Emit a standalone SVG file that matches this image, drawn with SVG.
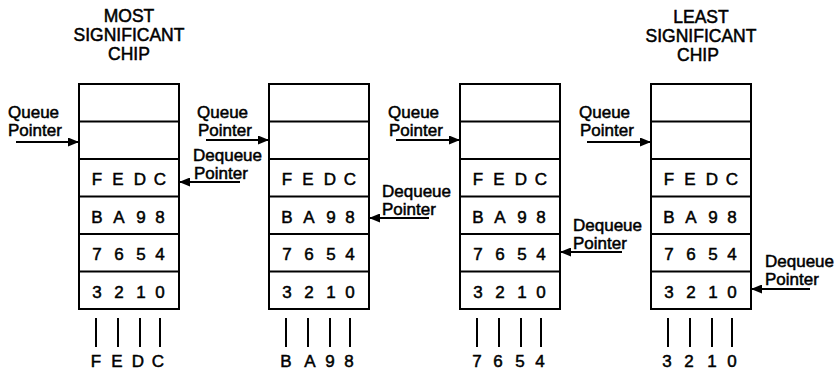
<svg xmlns="http://www.w3.org/2000/svg" width="838" height="374" viewBox="0 0 838 374">
<defs>
<style>
text{font-family:"Liberation Sans",Arial,sans-serif;fill:#000;stroke:#000;stroke-width:0.5}
.t{font-size:17.5px;text-anchor:middle}
.lb{font-size:17px}
.c{font-size:17px;text-anchor:middle}
.box{fill:#fff;stroke:#000;stroke-width:2}
.div{stroke:#000;stroke-width:2}
.pin{stroke:#000;stroke-width:2}
.arr{stroke:#000;stroke-width:2;fill:none;marker-end:url(#ah)}
</style>
<marker id="ah" markerUnits="userSpaceOnUse" markerWidth="11" markerHeight="9" refX="11" refY="4.5" orient="auto">
<path d="M0,0 L11,4.5 L0,9 z" fill="#000"/>
</marker>
<g id="chipbody">
<rect class="box" x="0" y="84" width="100" height="225"/>
<line class="div" x1="0" y1="121.5" x2="100" y2="121.5"/>
<line class="div" x1="0" y1="159" x2="100" y2="159"/>
<line class="div" x1="0" y1="196.5" x2="100" y2="196.5"/>
<line class="div" x1="0" y1="234" x2="100" y2="234"/>
<line class="div" x1="0" y1="271.5" x2="100" y2="271.5"/>
<text class="c" x="18" y="185">F</text><text class="c" x="39" y="185">E</text><text class="c" x="61" y="185">D</text><text class="c" x="81" y="185">C</text>
<text class="c" x="18" y="222.5">B</text><text class="c" x="40" y="222.5">A</text><text class="c" x="62" y="222.5">9</text><text class="c" x="81" y="222.5">8</text>
<text class="c" x="18" y="260">7</text><text class="c" x="40" y="260">6</text><text class="c" x="62" y="260">5</text><text class="c" x="81" y="260">4</text>
<text class="c" x="18" y="297.5">3</text><text class="c" x="40" y="297.5">2</text><text class="c" x="62" y="297.5">1</text><text class="c" x="81" y="297.5">0</text>
<line class="pin" x1="17" y1="318" x2="17" y2="347"/>
<line class="pin" x1="39" y1="318" x2="39" y2="347"/>
<line class="pin" x1="61" y1="318" x2="61" y2="347"/>
<line class="pin" x1="81" y1="318" x2="81" y2="347"/>
</g>
</defs>

<g id="chip1">
<text class="t" x="129" y="22">MOST</text>
<text class="t" x="129" y="41">SIGNIFICANT</text>
<text class="t" x="129" y="60">CHIP</text>
<use href="#chipbody" x="79"/>
<text class="c" x="96" y="367">F</text><text class="c" x="117" y="367">E</text><text class="c" x="138" y="367">D</text><text class="c" x="158" y="367">C</text>
</g>

<g id="chip2">
<use href="#chipbody" x="269"/>
<text class="c" x="286" y="367">B</text><text class="c" x="310" y="367">A</text><text class="c" x="330" y="367">9</text><text class="c" x="349" y="367">8</text>
</g>

<g id="chip3">
<use href="#chipbody" x="460"/>
<text class="c" x="477" y="367">7</text><text class="c" x="498" y="367">6</text><text class="c" x="520" y="367">5</text><text class="c" x="540" y="367">4</text>
</g>

<g id="chip4">
<text class="t" x="701" y="23">LEAST</text>
<text class="t" x="701" y="42">SIGNIFICANT</text>
<text class="t" x="698" y="61">CHIP</text>
<use href="#chipbody" x="651"/>
<text class="c" x="667" y="367">3</text><text class="c" x="689" y="367">2</text><text class="c" x="712" y="367">1</text><text class="c" x="732" y="367">0</text>
</g>

<g id="labels">
<text class="lb" x="8" y="118">Queue</text><text class="lb" x="8" y="136">Pointer</text>
<text class="lb" x="193" y="161">Dequeue</text><text class="lb" x="194" y="179">Pointer</text>
<text class="lb" x="197" y="118">Queue</text><text class="lb" x="198" y="136">Pointer</text>
<text class="lb" x="382" y="197">Dequeue</text><text class="lb" x="382" y="215">Pointer</text>
<text class="lb" x="388" y="118">Queue</text><text class="lb" x="389" y="136">Pointer</text>
<text class="lb" x="573" y="231">Dequeue</text><text class="lb" x="573" y="249">Pointer</text>
<text class="lb" x="579" y="118">Queue</text><text class="lb" x="580" y="136">Pointer</text>
<text class="lb" x="765" y="267">Dequeue</text><text class="lb" x="765" y="285">Pointer</text>
</g>

<g id="connectors">
<line class="arr" x1="16" y1="142" x2="79" y2="142"/>
<line class="arr" x1="240" y1="182" x2="179" y2="182"/>
<line class="arr" x1="206" y1="140" x2="269" y2="140"/>
<line class="arr" x1="429" y1="218" x2="369" y2="218"/>
<line class="arr" x1="396" y1="140" x2="460" y2="140"/>
<line class="arr" x1="622" y1="252" x2="560" y2="252"/>
<line class="arr" x1="587" y1="142" x2="651" y2="142"/>
<line class="arr" x1="810" y1="289" x2="751" y2="289"/>
</g>
</svg>
